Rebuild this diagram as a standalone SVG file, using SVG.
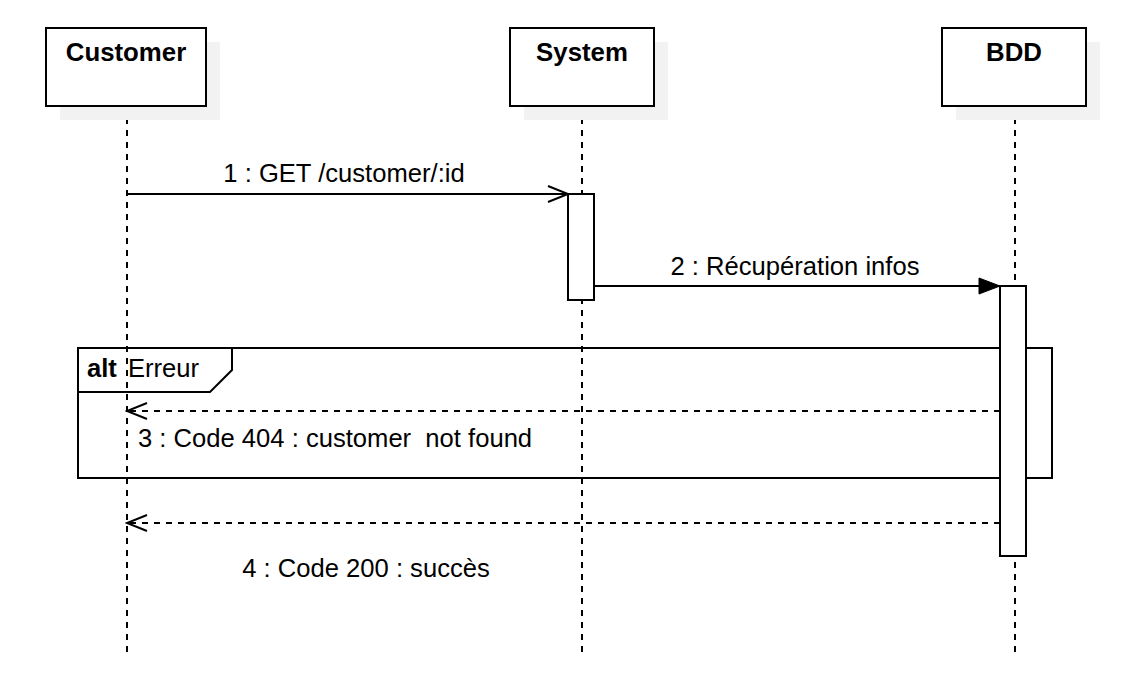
<svg xmlns="http://www.w3.org/2000/svg" width="1148" height="684" viewBox="0 0 1148 684">
<style>
.shadow{fill:#f2f2f2;stroke:none}
.box{fill:#ffffff;stroke:#000;stroke-width:2}
.title{font-family:"Liberation Sans",Arial,sans-serif;font-size:25.8px;font-weight:bold;fill:#000;text-anchor:middle}
.lbl{font-family:"Liberation Sans",Arial,sans-serif;font-size:25.6px;fill:#000}
.life{stroke:#000;stroke-width:2;stroke-dasharray:6 6;fill:none}
.act{fill:#fff;stroke:#000;stroke-width:2}
.msg{stroke:#000;stroke-width:2;fill:none}
.ret{stroke:#000;stroke-width:2;fill:none;stroke-dasharray:6 6}
</style>
<defs>
<marker id="open" markerWidth="24" markerHeight="20" refX="22" refY="10" orient="auto" markerUnits="userSpaceOnUse">
<path d="M2,2 L22,10 L2,18" fill="none" stroke="#000" stroke-width="2"/>
</marker>
<marker id="filled" markerWidth="24" markerHeight="20" refX="22" refY="10" orient="auto" markerUnits="userSpaceOnUse">
<path d="M1,2 L22,10 L1,18 Z" fill="#000" stroke="#000" stroke-width="1"/>
</marker>
</defs>
<rect width="1148" height="684" fill="#fff"/>
<g id="lifelines">
<line class="life" x1="127" y1="106" x2="127" y2="652"/>
<line class="life" x1="582" y1="106" x2="582" y2="652"/>
<line class="life" x1="1015" y1="106" x2="1015" y2="652"/>
</g>
<g id="customer">
<rect class="shadow" x="60" y="42" width="160" height="78"/>
<rect class="box" x="46" y="28" width="160" height="78"/>
<text class="title" x="126" y="61">Customer</text>
</g>
<g id="system">
<rect class="shadow" x="524" y="42" width="144" height="78"/>
<rect class="box" x="510" y="28" width="144" height="78"/>
<text class="title" x="582" y="61">System</text>
</g>
<g id="bdd">
<rect class="shadow" x="956" y="42" width="144" height="78"/>
<rect class="box" x="942" y="28" width="144" height="78"/>
<text class="title" x="1014" y="61">BDD</text>
</g>
<g id="alt-frame">
<rect x="78" y="348" width="974" height="130" fill="none" stroke="#000" stroke-width="2"/>
<path d="M78,392 L210,392 L232,370 L232,348" fill="none" stroke="#000" stroke-width="2"/>
<text class="lbl" x="87" y="377"><tspan font-weight="bold">alt</tspan> <tspan x="128">Erreur</tspan></text>
</g>
<g id="activation-system">
<rect class="act" x="568" y="194" width="26" height="106"/>
</g>
<g id="activation-bdd">
<rect class="act" x="1000" y="286" width="26" height="270"/>
</g>
<g id="connectors">
<line class="msg" x1="127" y1="194" x2="568" y2="194" marker-end="url(#open)"/>
<text class="lbl" x="344" y="182" text-anchor="middle">1 : GET /customer/:id</text>
<line class="msg" x1="594" y1="286" x2="1000" y2="286" marker-end="url(#filled)"/>
<text class="lbl" x="795" y="275" text-anchor="middle">2 : Récupération infos</text>
<line class="ret" x1="1000" y1="411" x2="127" y2="411" marker-end="url(#open)"/>
<text class="lbl" x="138" y="447" xml:space="preserve">3 : Code 404 : customer  not found</text>
<line class="ret" x1="1000" y1="523" x2="127" y2="523" marker-end="url(#open)"/>
<text class="lbl" x="366" y="577" text-anchor="middle">4 : Code 200 : succès</text>
</g>
</svg>
